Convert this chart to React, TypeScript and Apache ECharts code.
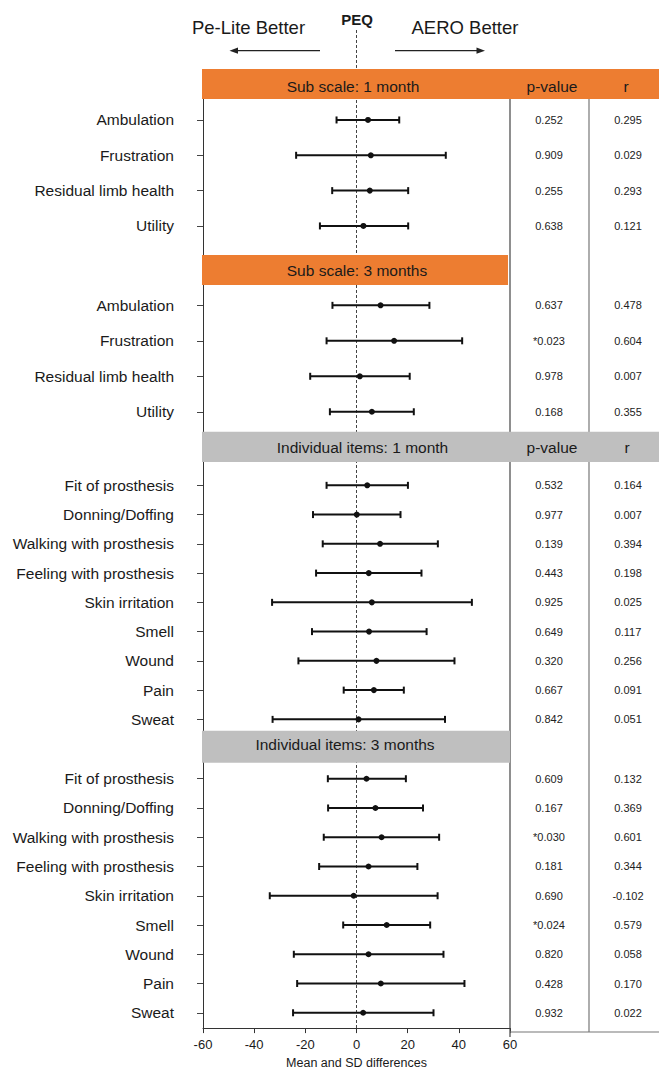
import React, { useEffect, useRef } from "react";
import * as echarts from "echarts";

// ---------- data ----------
const subLabels = ["Ambulation", "Frustration", "Residual limb health", "Utility"];

const sub1Low = [-7.8, -23.6, -9.5, -14.3];
const sub1Mean = [4.5, 5.6, 5.2, 2.7];
const sub1High = [16.7, 34.9, 20.2, 20.2];
const sub1P = ["0.252", "0.909", "0.255", "0.638"];
const sub1R = ["0.295", "0.029", "0.293", "0.121"];

const sub3Low = [-9.4, -11.7, -18.1, -10.4];
const sub3Mean = [9.4, 14.7, 1.3, 6.0];
const sub3High = [28.5, 41.3, 20.8, 22.4];
const sub3P = ["0.637", "*0.023", "0.978", "0.168"];
const sub3R = ["0.478", "0.604", "0.007", "0.355"];

const itemLabels = [
  "Fit of prosthesis",
  "Donning/Doffing",
  "Walking with prosthesis",
  "Feeling with prosthesis",
  "Skin irritation",
  "Smell",
  "Wound",
  "Pain",
  "Sweat",
];

const item1Low = [-11.7, -17.0, -13.2, -15.8, -33.0, -17.4, -22.7, -5.0, -32.8];
const item1Mean = [4.2, 0.1, 9.2, 4.8, 6.0, 4.9, 7.8, 6.8, 0.8];
const item1High = [20.1, 17.2, 31.8, 25.4, 45.1, 27.4, 38.3, 18.5, 34.6];
const item1P = ["0.532", "0.977", "0.139", "0.443", "0.925", "0.649", "0.320", "0.667", "0.842"];
const item1R = ["0.164", "0.007", "0.394", "0.198", "0.025", "0.117", "0.256", "0.091", "0.051"];

const item3Low = [-11.2, -11.1, -12.8, -14.6, -33.9, -5.2, -24.5, -23.2, -24.8];
const item3Mean = [3.9, 7.4, 9.8, 4.7, -1.1, 11.8, 4.7, 9.5, 2.6];
const item3High = [19.3, 26.0, 32.3, 23.8, 31.7, 28.8, 34.0, 42.2, 30.1];
const item3P = ["0.609", "0.167", "*0.030", "0.181", "0.690", "*0.024", "0.820", "0.428", "0.932"];
const item3R = ["0.132", "0.369", "0.601", "0.344", "-0.102", "0.579", "0.058", "0.170", "0.022"];

const xMin = -60;
const xMax = 60;
const xInterval = 20;

const sectionTitles = [
  "Sub scale: 1 month",
  "Sub scale: 3 months",
  "Individual items: 1 month",
  "Individual items: 3 months",
];

// ---------- layout ----------
const FONT = "'Liberation Sans', Arial, Helvetica, sans-serif";
const TXT = "#1a1a1a";
const ORANGE = "#ED7D31";
const GRAY = "#BFBFBF";
const GL = 203;
const GW = 307;
const P_X = 549;
const R_X = 628;

const sections = [
  { labels: subLabels, low: sub1Low, mean: sub1Mean, high: sub1High, p: sub1P, r: sub1R, top: 102.3, height: 141.3 },
  { labels: subLabels, low: sub3Low, mean: sub3Mean, high: sub3High, p: sub3P, r: sub3R, top: 287.6, height: 141.9 },
  { labels: itemLabels, low: item1Low, mean: item1Mean, high: item1High, p: item1P, r: item1R, top: 470.7, height: 263.3 },
  { labels: itemLabels, low: item3Low, mean: item3Mean, high: item3High, p: item3P, r: item3R, top: 764.1, height: 263.3 },
];

function buildOption() {
  const grids: any[] = [
    { left: GL, width: GW, top: 30, height: 1002 },
    { left: GL, width: GW, top: 99, height: 933 },
  ];
  const xAxes: any[] = [
    {
      gridIndex: 0,
      type: "value",
      min: xMin,
      max: xMax,
      interval: xInterval,
      splitLine: { show: false },
      axisLine: { onZero: false, lineStyle: { color: "#333", width: 1 } },
      axisTick: { length: 5, lineStyle: { color: "#333" } },
      axisLabel: { fontSize: 13, color: TXT, fontFamily: FONT, margin: 10 },
      name: "Mean and SD differences",
      nameLocation: "middle",
      nameGap: 27,
      nameTextStyle: { fontSize: 12.5, color: TXT, fontFamily: FONT },
    },
    { gridIndex: 1, type: "value", min: xMin, max: xMax, show: false },
  ];
  const yAxes: any[] = [
    { gridIndex: 0, type: "value", min: 0, max: 1, show: false },
    {
      gridIndex: 1,
      type: "value",
      min: 0,
      max: 1,
      splitLine: { show: false },
      axisLine: { show: true, onZero: false, lineStyle: { color: "#333", width: 1 } },
      axisTick: { show: false },
      axisLabel: { show: false },
    },
  ];
  const series: any[] = [
    {
      type: "custom",
      xAxisIndex: 0,
      yAxisIndex: 0,
      z: 1,
      silent: true,
      data: [[0]],
      renderItem: (params: any, api: any) => {
        const x = api.coord([api.value(0), 0])[0];
        const cs = params.coordSys;
        return {
          type: "line",
          shape: { x1: x, y1: cs.y, x2: x, y2: cs.y + cs.height },
          style: { stroke: "#444", lineWidth: 1, lineDash: [3, 2] },
        };
      },
    },
  ];

  sections.forEach((s, k) => {
    const gi = k + 2;
    grids.push({ left: GL, width: GW, top: s.top, height: s.height });
    xAxes.push({ gridIndex: gi, type: "value", min: xMin, max: xMax, show: false });
    yAxes.push({
      gridIndex: gi,
      type: "category",
      inverse: true,
      data: s.labels,
      axisLine: { show: false, onZero: false },
      axisTick: { show: true, alignWithLabel: true, length: 6, lineStyle: { color: "#444" } },
      axisLabel: { fontSize: 15.5, color: TXT, fontFamily: FONT, margin: 29 },
      splitLine: { show: false },
    });
    const data = s.labels.map((_, i) => [s.low[i], s.mean[i], s.high[i], i]);
    series.push({
      type: "custom",
      xAxisIndex: gi,
      yAxisIndex: gi,
      z: 5,
      silent: true,
      clip: false,
      encode: { x: [0, 1, 2], y: 3 },
      data,
      renderItem: (params: any, api: any) => {
        const yi = api.value(3);
        const lo = api.coord([api.value(0), yi]);
        const mid = api.coord([api.value(1), yi]);
        const hi = api.coord([api.value(2), yi]);
        const h = 3.5;
        const st = { stroke: "#111", lineWidth: 2 };
        const idx = params.dataIndex;
        return {
          type: "group",
          children: [
            { type: "line", shape: { x1: lo[0], y1: lo[1], x2: hi[0], y2: hi[1] }, style: st },
            { type: "line", shape: { x1: lo[0], y1: lo[1] - h, x2: lo[0], y2: lo[1] + h }, style: st },
            { type: "line", shape: { x1: hi[0], y1: hi[1] - h, x2: hi[0], y2: hi[1] + h }, style: st },
            { type: "circle", shape: { cx: mid[0], cy: mid[1], r: 3 }, style: { fill: "#111" } },
            {
              type: "text",
              x: P_X,
              y: mid[1],
              style: { text: s.p[idx], fill: "#222", fontSize: 11, fontFamily: FONT, align: "center", verticalAlign: "middle" },
            },
            {
              type: "text",
              x: R_X,
              y: mid[1],
              style: { text: s.r[idx], fill: "#222", fontSize: 11, fontFamily: FONT, align: "center", verticalAlign: "middle" },
            },
          ],
        };
      },
    });
  });

  const hdrText = (text: string, x: number, y: number) => ({
    type: "text",
    z: 110,
    x,
    y,
    style: { text, fill: TXT, fontSize: 15.5, fontFamily: FONT, align: "center", verticalAlign: "middle" },
  });

  const graphic: any[] = [
    // table lines
    { type: "line", z: 50, shape: { x1: 510, y1: 99, x2: 510, y2: 1037 }, style: { stroke: "#444", lineWidth: 1.2 } },
    { type: "line", z: 50, shape: { x1: 589, y1: 99, x2: 589, y2: 1032 }, style: { stroke: "#777", lineWidth: 1.2 } },
    { type: "line", z: 50, shape: { x1: 510, y1: 1032, x2: 659, y2: 1032 }, style: { stroke: "#777", lineWidth: 1.2 } },
    // header bars
    { type: "rect", z: 100, shape: { x: 202, y: 69, width: 457, height: 30 }, style: { fill: ORANGE } },
    { type: "rect", z: 100, shape: { x: 202, y: 255, width: 306, height: 30 }, style: { fill: ORANGE } },
    { type: "rect", z: 100, shape: { x: 202, y: 431.7, width: 457, height: 30.3 }, style: { fill: GRAY } },
    { type: "rect", z: 100, shape: { x: 202, y: 730.7, width: 308, height: 32 }, style: { fill: GRAY } },
    hdrText(sectionTitles[0], 353, 86.5),
    hdrText("p-value", 552, 86),
    hdrText("r", 626, 86),
    hdrText(sectionTitles[1], 357, 270.5),
    hdrText(sectionTitles[2], 362.5, 447.5),
    hdrText("p-value", 552, 447),
    hdrText("r", 627, 447),
    hdrText(sectionTitles[3], 345, 744.5),
    // top annotations
    {
      type: "text",
      z: 110,
      x: 357,
      y: 19,
      style: { text: "PEQ", fill: TXT, fontSize: 15, fontWeight: "bold", fontFamily: FONT, align: "center", verticalAlign: "middle" },
    },
    {
      type: "text",
      z: 110,
      x: 248.5,
      y: 27.5,
      style: { text: "Pe-Lite Better", fill: TXT, fontSize: 18.5, fontFamily: FONT, align: "center", verticalAlign: "middle" },
    },
    {
      type: "text",
      z: 110,
      x: 465,
      y: 27.5,
      style: { text: "AERO Better", fill: TXT, fontSize: 18.5, fontFamily: FONT, align: "center", verticalAlign: "middle" },
    },
    { type: "line", z: 110, shape: { x1: 236, y1: 50.7, x2: 320, y2: 50.7 }, style: { stroke: "#222", lineWidth: 1.3 } },
    { type: "polygon", z: 110, shape: { points: [[229.5, 50.7], [238, 47.6], [238, 53.8]] }, style: { fill: "#222" } },
    { type: "line", z: 110, shape: { x1: 395, y1: 50.7, x2: 478, y2: 50.7 }, style: { stroke: "#222", lineWidth: 1.3 } },
    { type: "polygon", z: 110, shape: { points: [[485, 50.7], [476.5, 47.6], [476.5, 53.8]] }, style: { fill: "#222" } },
  ];

  return {
    animation: false,
    backgroundColor: "#ffffff",
    textStyle: { fontFamily: FONT },
    grid: grids,
    xAxis: xAxes,
    yAxis: yAxes,
    series,
    graphic,
  };
}

export default function App() {
  const ref = useRef<HTMLDivElement>(null);
  useEffect(() => {
    if (!ref.current) return;
    const chart = echarts.init(ref.current, undefined, { renderer: "svg" });
    chart.setOption(buildOption());
    return () => chart.dispose();
  }, []);
  return (
    <div
      ref={ref}
      style={{ position: "absolute", left: 0, top: 0, width: 659, height: 1074, background: "#fff" }}
    />
  );
}
